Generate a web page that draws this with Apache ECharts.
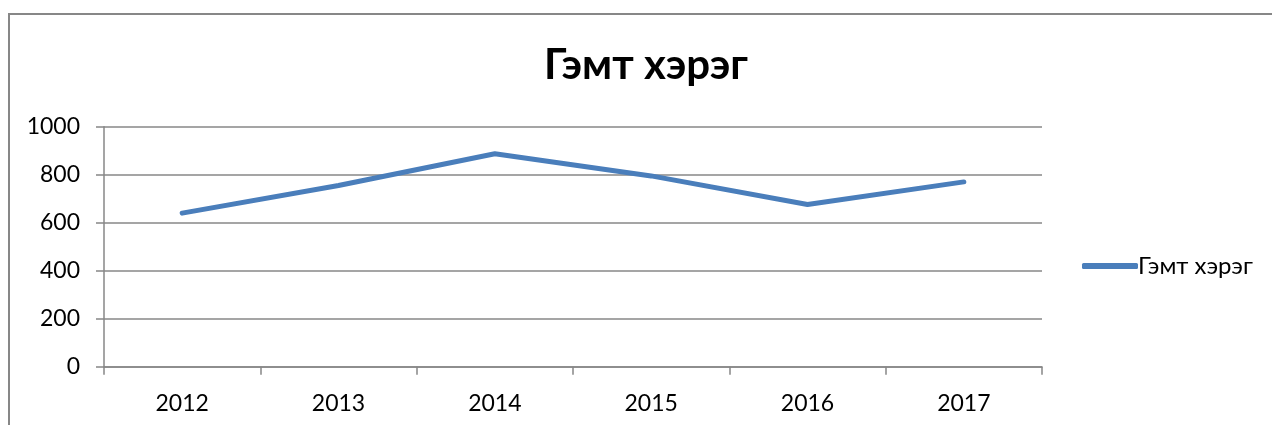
<!DOCTYPE html>
<html>
<head>
<meta charset="utf-8">
<script src="https://cdn.jsdelivr.net/npm/echarts@6/dist/echarts.min.js"></script>
<style>
  html, body { margin: 0; padding: 0; background: #fff; }
  #main { width: 1272px; height: 425px; }
</style>
</head>
<body>
<div id="main"></div>
<script>
const chartDom = document.getElementById('main');
const myChart = echarts.init(chartDom);

// Data
const years = ['2012', '2013', '2014', '2015', '2016', '2017'];
const crimes = [640, 755, 887, 795, 676, 770];
const seriesName = 'Гэмт хэрэг';
const titleText = 'Гэмт хэрэг';

const gray = '#878787';
const font = 'Lato, "Open Sans", sans-serif';

const option = {
    backgroundColor: '#fff',
    animation: false,
    title: {
        text: titleText,
        left: 539,
        top: 39,
        textStyle: { fontFamily: font, fontSize: 42, fontWeight: 'bold', color: '#000' }
    },
    legend: {
        data: [{ name: seriesName, icon: 'roundRect' }],
        left: 1077,
        top: 249,
        itemWidth: 56,
        itemHeight: 6,
        itemGap: 4,
        textStyle: { fontFamily: font, fontSize: 24, color: '#000', padding: [0, 0, 0, -5] }
    },
    grid: {
        left: 104,
        right: 230,
        top: 126.7,
        bottom: 58.3,
        containLabel: false
    },
    xAxis: {
        type: 'category',
        data: years,
        boundaryGap: true,
        axisLine: { show: true, lineStyle: { color: gray, width: 1.5 } },
        axisTick: { show: true, length: 8, lineStyle: { color: gray, width: 1.5 } },
        axisLabel: { fontFamily: font, fontSize: 23, color: '#000', margin: 25 },
        splitLine: { show: false }
    },
    yAxis: {
        type: 'value',
        min: 0,
        max: 1000,
        interval: 200,
        axisLine: { show: true, lineStyle: { color: gray, width: 1.5 } },
        axisTick: { show: true, length: 8, lineStyle: { color: gray, width: 1.5 } },
        axisLabel: { fontFamily: font, fontSize: 23, color: '#000', margin: 24, formatter: v => String(v) },
        splitLine: { show: true, lineStyle: { color: gray, width: 1.5 } }
    },
    graphic: [{
        type: 'rect',
        shape: { x: 9, y: 14, width: 1300, height: 450 },
        style: { fill: 'none', stroke: gray, lineWidth: 2 },
        silent: true
    }],
    series: [{
        name: seriesName,
        type: 'line',
        data: crimes,
        symbol: 'none',
        lineStyle: { color: '#4a7ebb', width: 5, cap: 'round', join: 'round' },
        itemStyle: { color: '#4a7ebb' }
    }]
};

myChart.setOption(option);
window.onresize = () => myChart.resize();
</script>
</body>
</html>
